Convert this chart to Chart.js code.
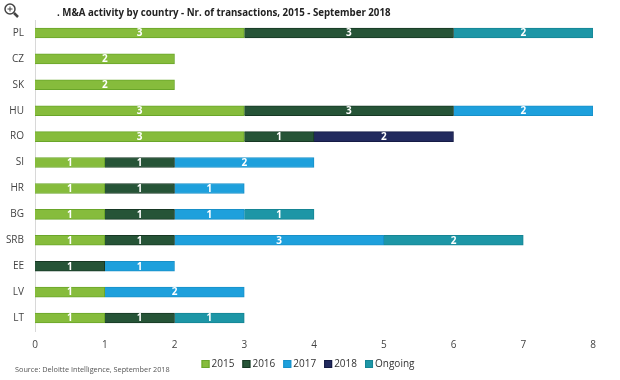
<!DOCTYPE html>
<html><head><meta charset="utf-8">
<script src="https://cdn.jsdelivr.net/npm/chart.js@4/dist/chart.umd.min.js"></script>
<style>html,body{margin:0;padding:0;background:#fff}#wrap{width:620px;height:380px;position:relative}</style>
</head><body><div id="wrap"><canvas id="c" width="620" height="380"></canvas></div>
<script>
const countries = ["PL","CZ","SK","HU","RO","SI","HR","BG","SRB","EE","LV","LT"];
const v2015    = [3,2,2,3,3,1,1,1,1,0,1,1];
const v2016    = [3,0,0,3,1,1,1,1,1,1,0,1];
const v2017    = [0,0,0,2,0,2,1,1,3,1,2,0];
const v2018    = [0,0,0,0,2,0,0,0,0,0,0,0];
const vOngoing = [2,0,0,0,0,0,0,1,2,0,0,1];
const xTicks = [0,1,2,3,4,5,6,7,8];
const titleText = ". M&A activity by country - Nr. of transactions, 2015 - September 2018";
const sourceText = "Source: Deloitte Intelligence, September 2018";

const FONT = "'Open Sans', sans-serif";
function ds(label, data, bg, border){
  return {label, data: data.map(v => v === 0 ? null : v), backgroundColor: bg, borderColor: border, borderWidth: 1, barThickness: 10};
}
const labelPlugin = {
  id:'labels',
  afterDatasetsDraw(chart){
    const ctx = chart.ctx;
    ctx.save();
    ctx.font = "bold 10px " + FONT;
    ctx.fillStyle = "#fff";
    ctx.textAlign = "center";
    ctx.textBaseline = "middle";
    chart.data.datasets.forEach((d, i) => {
      chart.getDatasetMeta(i).data.forEach((bar, j) => {
        const v = d.data[j];
        if (!v) return;
        const cx = (bar.x + bar.base) / 2;
        ctx.fillText(String(v), cx, bar.y + 0.5);
      });
    });
    ctx.restore();
  }
};
const decoPlugin = {
  id:'deco',
  afterDraw(chart){
    const ctx = chart.ctx;
    ctx.save();
    // magnifier icon
    ctx.strokeStyle = "#444"; ctx.lineWidth = 1.5;
    ctx.beginPath(); ctx.arc(10, 9, 5, 0, Math.PI*2); ctx.stroke();
    ctx.lineWidth = 1;
    ctx.beginPath(); ctx.moveTo(7.5, 9); ctx.lineTo(12.5, 9); ctx.moveTo(10, 6.5); ctx.lineTo(10, 11.5); ctx.stroke();
    ctx.lineWidth = 2.5;
    ctx.beginPath(); ctx.moveTo(14, 13); ctx.lineTo(18, 17); ctx.stroke();
    // title
    ctx.fillStyle = "#222";
    ctx.font = "bold 9.7px " + FONT;
    ctx.textAlign = "left"; ctx.textBaseline = "middle";
    ctx.fillText(titleText, 57, 13);
    // source
    ctx.fillStyle = "#555";
    ctx.font = "7.3px " + FONT;
    ctx.fillText(sourceText, 15, 370);
    // legend
    const items = chart.data.datasets.map(d => ({label: d.label, bg: d.backgroundColor, bd: d.borderColor}));
    ctx.font = "10px " + FONT;
    const box = 8, gapBT = 2, gapItem = 8;
    let total = 0;
    items.forEach((it, k) => { it.w = box + gapBT + ctx.measureText(it.label).width; total += it.w + (k ? gapItem : 0); });
    let x = 308 - total / 2;
    const y = 364;
    items.forEach(it => {
      ctx.fillStyle = it.bg; ctx.fillRect(x, y - 4, box, box);
      ctx.strokeStyle = it.bd; ctx.lineWidth = 1; ctx.strokeRect(x + 0.5, y - 3.5, box - 1, box - 1);
      ctx.fillStyle = "#333"; ctx.textBaseline = "middle";
      ctx.fillText(it.label, x + box + gapBT, y);
      x += it.w + gapItem;
    });
    ctx.restore();
  }
};

new Chart(document.getElementById('c'), {
  type: 'bar',
  data: {
    labels: countries,
    datasets: [
      ds("2015", v2015, "#86bc3c", "#6aa62a"),
      ds("2016", v2016, "#265437", "#173824"),
      ds("2017", v2017, "#1ea0dc", "#1890c8"),
      ds("2018", v2018, "#222a5e", "#151b45"),
      ds("Ongoing", vOngoing, "#1d96a6", "#168594")
    ]
  },
  options: {
    indexAxis: 'y',
    responsive: false,
    animation: false,
    layout: { padding: { top: 20, right: 27, bottom: 29, left: 0 } },
    scales: {
      x: {
        stacked: true, min: 0, max: 8,
        afterBuildTicks(s){ s.ticks = xTicks.map(v => ({value: v})); },
        grid: { display: false, drawTicks: false },
        border: { display: false },
        ticks: { color: "#444", font: { size: 10, family: FONT }, padding: 8 },
        afterFit(s){ s.height = 20; }
      },
      y: {
        stacked: true,
        grid: { display: false, drawTicks: false },
        border: { display: true, color: "#d8d8d8" },
        ticks: { color: "#444", font: { size: 10, family: FONT }, padding: 11 },
        afterFit(s){ s.width = 35; }
      }
    },
    plugins: {
      legend: { display: false },
      tooltip: { enabled: false },
      title: { display: false }
    }
  },
  plugins: [labelPlugin, decoPlugin]
});
</script></body></html>
